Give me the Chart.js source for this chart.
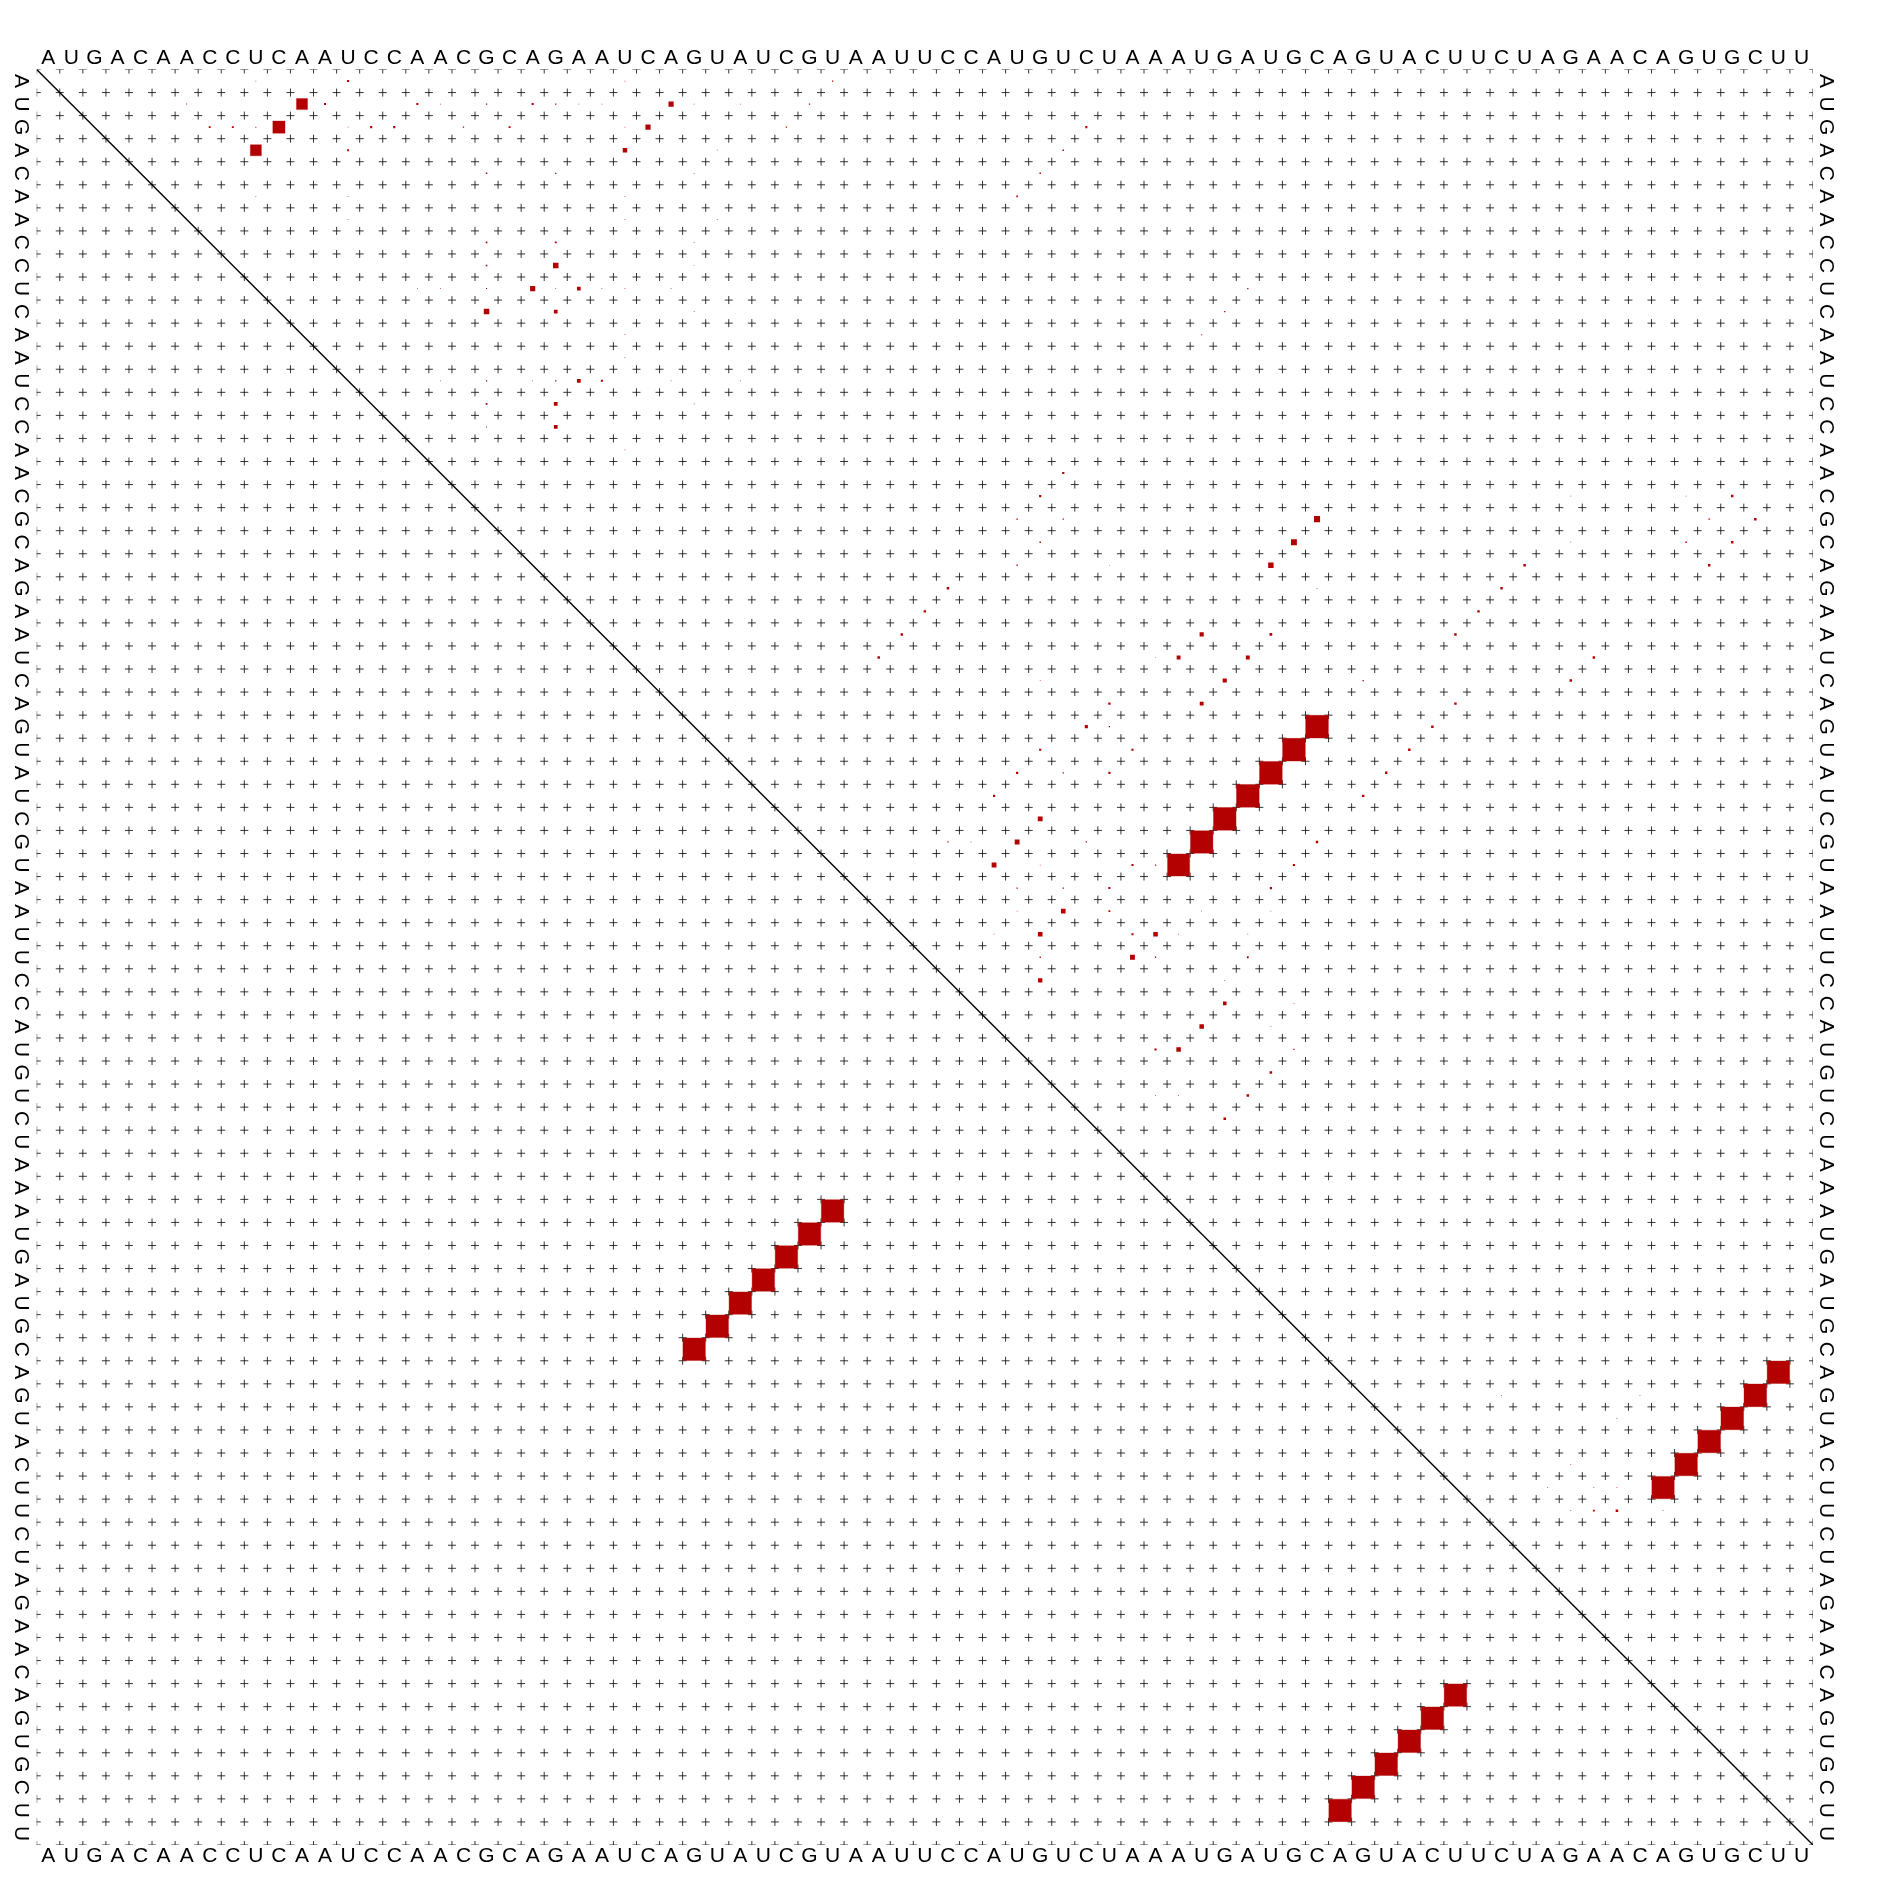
<!DOCTYPE html>
<html>
<head>
<meta charset="utf-8">
<script src="https://cdn.jsdelivr.net/npm/chart.js@4.4.1/dist/chart.umd.min.js"></script>
<style>
html,body{margin:0;padding:0;background:#fff;}
canvas{display:block;}
</style>
</head>
<body>
<canvas id="c" width="1883" height="1879"></canvas>
<script>
// ---- data ----
const sequence = "AUGACAACCUCAAUCCAACGCAGAAUCAGUAUCGUAAUUCCAUGUCUAAAUGAUGCAGUACUUCUAGAACAGUGCUU";
const bases = sequence.split("");

// upper-right triangle: base-pair probabilities (i < j)
const bppI = [2,3,4, 2,3,4, 1,1,1,1, 2,2,2,2,2,2,2,2,2,2,2,2, 3,3,3,3,3,3,3,3,3,3,3, 4,4,4, 5,5,5,5, 6,6,6,6, 7,7,7, 8,8,8, 9,9,9,
  10,10,10,10,10,10,10,10,10,10, 11,11,11,11, 12,12,13, 14,14,14,14,14,14,14,14, 15,15,15, 16,16,17,
  18,19,20,20,21,22,22, 20,21,22,23, 23,24,25,26, 25,25,26,26,26,27,27,27, 28,28,29,29,
  30,30,31,31,31,31, 32,32,33,34,34,34,34,34, 35,35,35,35,35, 36,36,36,36, 37,37,37,37,37,
  38,38,38,38,38,38, 39,39,39,39, 40,40, 41,41,42,42,43,43,43,44,45,45,45,46,
  19,20,20,21,21,22, 22,23,24,25,26,27, 28,29,30, 19,19,21,
  63,63,62,62,62,61,63,58,59,58,63,
  29,30,31,32,33,34,35, 57,58,59,60,61,62];
const bppJ = [12,11,10, 28,27,26, 14,35,10,26, 7,13,17,18,20,22,23,24,25,29,31,34, 8,9,10,14,15,16,19,21,26,33,46, 14,30,45, 20,23,29,44, 10,14,26,43, 14,26,30, 20,23,29, 20,23,29,
  17,18,20,22,23,24,25,28,53,26, 20,23,29,52, 26,51,26, 18,20,22,23,24,25,28,31, 20,23,29, 20,23,26,
  45,44,43,45,44,43,47, 56,55,54,56, 40,39,38,37, 51,54,50,53,49,52,44,58, 47,51,46,47,
  44,48,43,45,47,59, 42,58,44,43,40,41,46,56, 42,44,48,49,55, 43,45,47,54, 43,45,47,51,54,
  42,44,48,49,50,53, 44,48,49,53, 44,52, 52,55,51,54,50,49,55,54,53,49,50,52,
  74,75,73,74,72,73, 65,64,63,62,68,67, 62,61,60, 67,72,67,
  69,68,69,68,66,67,67,70,69,64,71,
  56,55,54,53,52,51,50, 76,75,74,73,72,71];
const bppP = [0.23,0.28,0.23, 0.05,0.05,0.037, 0.008,0.003,0.001,0.001, 0.002,0.008,0.008,0.001,0.003,0.008,0.003,0.001,0.001,0.001,0.001,0.003,
  0.007,0.007,0.002,0.001,0.008,0.008,0.003,0.007,0.001,0.003,0.008, 0.007,0.001,0.004, 0.004,0.003,0.001,0.004, 0.001,0.001,0.001,0.005, 0.001,0.001,0.001,
  0.005,0.006,0.001, 0.005,0.057,0.001,
  0.001,0.001,0.002,0.05,0.001,0.026,0.001,0.001,0.003,0.001, 0.057,0.026,0.001,0.003, 0.001,0.002,0.001,
  0.001,0.003,0.001,0.003,0.026,0.008,0.001,0.001, 0.006,0.026,0.001, 0.002,0.026,0.001,
  0.009,0.009,0.004,0.003,0.004,0.003,0.001, 0.07,0.065,0.055,0.001, 0.011,0.011,0.011,0.011,
  0.032,0.014,0.028,0.028,0.001,0.032,0.001,0.003, 0.01,0.028,0.018,0.003,
  0.009,0.009,0.009,0.003,0.009,0.011, 0.009,0.011,0.044,0.044,0.003,0.001,0.003,0.011,
  0.044,0.001,0.008,0.003,0.009, 0.003,0.003,0.008,0.009, 0.001,0.04,0.006,0.001,0.001,
  0.001,0.04,0.008,0.04,0.001,0.001, 0.003,0.044,0.003,0.006, 0.035,0.001,
  0.024,0.001,0.038,0.001,0.038,0.009,0.003,0.012,0.012,0.001,0.001,0.012,
  0.011,0.012,0.004,0.011,0.004,0.011, 0.011,0.011,0.011,0.011,0.011,0.011, 0.011,0.011,0.011, 0.001,0.001,0.001,
  0.012,0.007,0.001,0.001,0.001,0.001,0.001,0.001,0.001,0.001,0.001,
  0.97,0.97,0.97,0.97,0.96,0.95,0.92, 0.95,0.96,0.96,0.96,0.95,0.94];

// lower-left triangle: MFE structure pairs (i < j)
const mfeI = [29,30,31,32,33,34,35,57,58,59,60,61,62];
const mfeJ = [56,55,54,53,52,51,50,76,75,74,73,72,71];

// ---- build datasets ----
const N = bases.length;
const gridPts = [];
for (let a = 0; a <= N; a++) for (let b = 0; b <= N; b++) gridPts.push({x: a + 0.5, y: b + 0.5});
const upperPts = bppI.map((i, k) => ({x: bppJ[k], y: i, p: bppP[k]}));
const lowerPts = mfeI.map((i, k) => ({x: i, y: mfeJ[k], p: 0.95}));

function boxRadius(ctx) {
  const ca = ctx.chart.chartArea;
  if (!ca || !ctx.raw || ctx.raw.p === undefined) return 0;
  const cell = (ca.right - ca.left) / N;
  const side = Math.sqrt(ctx.raw.p) * cell;
  return side / Math.SQRT2;
}
function boxBorder(ctx) {
  return (ctx.raw && ctx.raw.p > 0.1) ? 1 : 0;
}

const seqLabels = {
  id: 'seqLabels',
  afterDatasetsDraw(chart) {
    const {ctx, chartArea: ca, scales: {x, y}} = chart;
    ctx.save();
    ctx.fillStyle = '#000';
    ctx.font = '21px "Liberation Sans", Arial, Helvetica, sans-serif';
    ctx.textAlign = 'center';
    ctx.textBaseline = 'middle';
    bases.forEach((b, k) => {
      const px = x.getPixelForValue(k + 1);
      ctx.fillText(b, px, ca.top - 11.5);
      ctx.fillText(b, px, ca.bottom + 11.5);
      const py = y.getPixelForValue(k + 1);
      [ca.left - 15.5, ca.right + 12.5].forEach(lx => {
        ctx.save();
        ctx.translate(lx, py);
        ctx.rotate(Math.PI / 2);
        ctx.fillText(b, 0, 0);
        ctx.restore();
      });
    });
    ctx.restore();
  }
};

new Chart(document.getElementById('c'), {
  type: 'scatter',
  data: {
    datasets: [
      {
        type: 'line',
        label: 'diagonal',
        data: [{x: 0.5, y: 0.5}, {x: N + 0.5, y: N + 0.5}],
        borderColor: '#000',
        borderWidth: 1.4,
        pointRadius: 0,
        order: 0,
        clip: 0
      },
      {
        label: 'pair probability',
        data: upperPts,
        pointStyle: 'rect',
        backgroundColor: '#b30000',
        borderColor: 'rgba(179,0,0,0.35)',
        borderWidth: boxBorder,
        pointRadius: boxRadius,
        order: 1,
        clip: 0
      },
      {
        label: 'MFE structure',
        data: lowerPts,
        pointStyle: 'rect',
        backgroundColor: '#b30000',
        borderColor: 'rgba(179,0,0,0.35)',
        borderWidth: boxBorder,
        pointRadius: boxRadius,
        order: 1,
        clip: 0
      },
      {
        label: 'grid',
        data: gridPts,
        pointStyle: 'cross',
        pointRadius: 4,
        borderColor: 'rgba(20,20,20,0.85)',
        borderWidth: 1,
        backgroundColor: 'transparent',
        order: 2,
        clip: 0
      }
    ]
  },
  options: {
    responsive: false,
    animation: false,
    devicePixelRatio: 1,
    events: [],
    layout: {padding: {left: 36.7, top: 69.5, right: 70, bottom: 34}},
    scales: {
      x: {type: 'linear', min: 0.5, max: N + 0.5, display: false},
      y: {type: 'linear', min: 0.5, max: N + 0.5, reverse: true, display: false}
    },
    plugins: {legend: {display: false}, tooltip: {enabled: false}, title: {display: false}}
  },
  plugins: [seqLabels]
});
</script>
</body>
</html>
